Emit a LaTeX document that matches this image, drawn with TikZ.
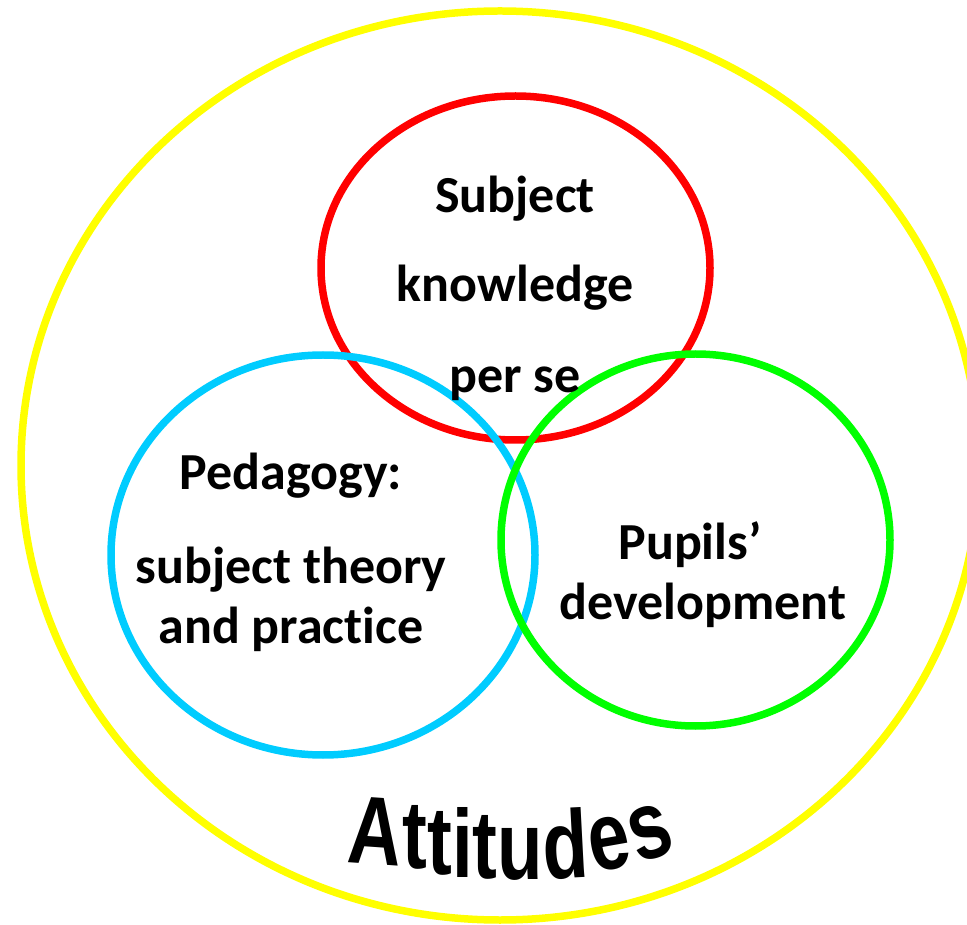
\documentclass[tikz,border=0pt]{standalone}
\usepackage{fontspec}
\setmainfont{Carlito}[Ligatures=NoCommon]
\newfontfamily\attfont[FakeStretch=0.77]{Liberation Sans}
\usetikzlibrary{decorations.text}

\definecolor{attyellow}{HTML}{FFFF00}
\definecolor{subjred}{HTML}{FF0000}
\definecolor{pedblue}{HTML}{00CCFF}
\definecolor{pupgreen}{HTML}{00FF00}

% one letter of the wavy title: drop, tilt, glyph (keeps the glyph's own width)
\newcommand\wavelt[3]{\sbox0{#3}\raisebox{#1}{\makebox[\wd0]{\rotatebox[origin=c]{#2}{#3}}}}

\begin{document}
\begin{tikzpicture}[x=0.02cm, y=-0.02cm,
    ring/.style={line width=0.15cm},
    lbl/.style={font=\fontsize{29.6}{36}\selectfont\bfseries, anchor=base, inner sep=0pt}]
    \useasboundingbox (0,0) rectangle (967,925);

    % the four rings
    \draw[ring, attyellow] (500,465.5) ellipse [x radius=479, y radius=454.5];
    \draw[ring, subjred] (515.5,268) ellipse [x radius=194.5, y radius=172];
    \draw[ring, pedblue] (323,555) ellipse [x radius=212, y radius=200];
    \draw[ring, pupgreen] (695.5,540) ellipse [x radius=194.5, y radius=186];

    % labels, one node per line
    \node[lbl] (subj1) at (515,213) {Subject};
    \node[lbl] (subj2) at (515,302) {knowledge};
    \node[lbl] (subj3) at (515,393) {per se};
    \node[lbl] (ped1) at (291,490) {Pedagogy:};
    \node[lbl] (ped2) at (291,583) {subject theory};
    \node[lbl] (ped3) at (291,643) {and practice};
    \node[lbl] (pup1) at (690,560) {Pupils’};
    \node[lbl] (pup2) at (703,620) {development};

    % wavy title along the bottom
    \node[anchor=base, inner sep=0pt, font=\attfont\bfseries\fontsize{55}{60}\selectfont]
        (att) at (510,864)
        {\wavelt{0pt}{-4}{A}\wavelt{-2.8pt}{0}{t}\wavelt{-5.7pt}{0}{t}%
         \wavelt{-7.4pt}{0}{i}\wavelt{-8.5pt}{0}{t}\wavelt{-9.1pt}{0}{u}%
         \wavelt{-8pt}{3}{d}\wavelt{-3pt}{10}{e}\wavelt{3pt}{18}{s}};
\end{tikzpicture}
\end{document}
